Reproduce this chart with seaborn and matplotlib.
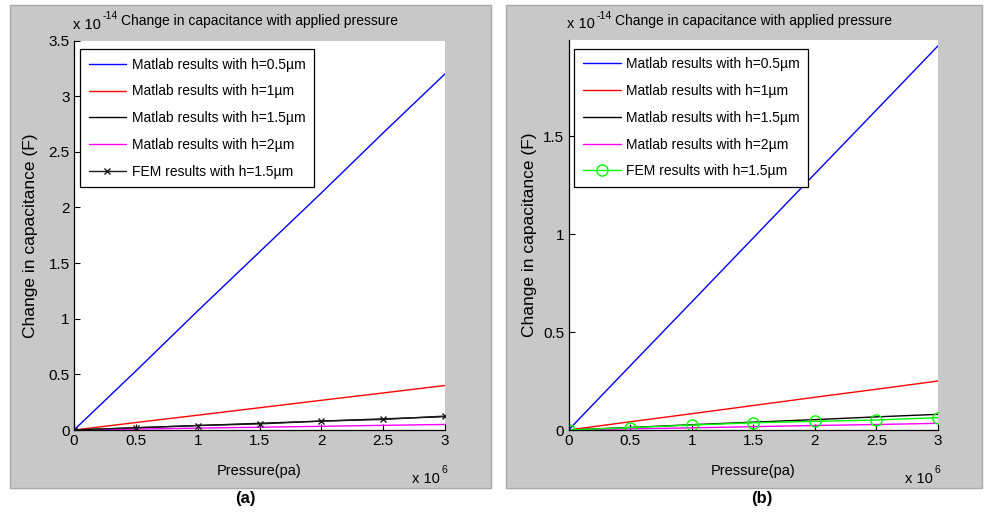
import numpy as np
import pandas as pd
import matplotlib
matplotlib.use("Agg")
import matplotlib.pyplot as plt
from matplotlib.patches import Rectangle
import seaborn as sns

# pressure in units of 1e6 Pa, capacitance change in units of 1e-14 F
pressure = [0, 0.5, 1.0, 1.5, 2.0, 2.5, 3.0]

a_h05 = [0, 0.53, 1.07, 1.60, 2.13, 2.67, 3.20]
a_h1 = [0, 0.067, 0.133, 0.20, 0.267, 0.333, 0.40]
a_h15 = [0, 0.02, 0.04, 0.06, 0.08, 0.10, 0.12]
a_h2 = [0, 0.008, 0.017, 0.025, 0.033, 0.042, 0.05]
a_fem = [0, 0.02, 0.04, 0.055, 0.08, 0.095, 0.125]

b_h05 = [0, 0.327, 0.653, 0.98, 1.307, 1.633, 1.96]
b_h1 = [0, 0.042, 0.083, 0.125, 0.167, 0.208, 0.25]
b_h15 = [0, 0.013, 0.027, 0.04, 0.053, 0.067, 0.08]
b_h2 = [0, 0.006, 0.011, 0.017, 0.023, 0.028, 0.034]
b_fem = [0, 0.012, 0.025, 0.037, 0.044, 0.051, 0.063]

labels = ["Matlab results with h=0.5\u00b5m", "Matlab results with h=1\u00b5m",
          "Matlab results with h=1.5\u00b5m", "Matlab results with h=2\u00b5m",
          "FEM results with h=1.5\u00b5m"]
a_yticks = [0, 0.5, 1, 1.5, 2, 2.5, 3, 3.5]
b_yticks = [0, 0.5, 1, 1.5]
xticks = [0, 0.5, 1, 1.5, 2, 2.5, 3]

sns.set_theme(style="ticks")
plt.rcParams["font.family"] = ["Liberation Sans", "DejaVu Sans"]
plt.rcParams["text.color"] = "black"
plt.rcParams["axes.labelcolor"] = "black"

fig = plt.figure(figsize=(9.84, 5.12), dpi=100)
fig.patch.set_facecolor("white")
W, H = 984, 512
for x0, x1 in [(10, 491), (506, 982)]:
    fig.patches.append(Rectangle((x0 / W, 1 - 488 / H), (x1 - x0) / W, (488 - 5) / H,
                                 transform=fig.transFigure, facecolor="#c8c8c8",
                                 edgecolor="#a8a8a8", lw=1, zorder=-10))


def px_axes(l, r, t, b):
    return fig.add_axes([l / W, 1 - b / H, (r - l) / W, (b - t) / H])


def sci_text(ax, x, y, power):
    base = ax.text(x, y, "x 10", transform=ax.transAxes, ha="left", va="center", fontsize=10.5)
    ax.annotate(power, xy=(1.0, 0.75), xycoords=base, xytext=(1, 0), textcoords="offset points",
                ha="left", va="bottom", fontsize=7.5)


ax_a = px_axes(74, 445, 40.5, 430)
ax_b = px_axes(568.5, 938, 40, 430)

panels = [
    (ax_a, [a_h05, a_h1, a_h15, a_h2, a_fem], "k", "x", 5, 3.5, a_yticks, "(a)", 245, -0.097),
    (ax_b, [b_h05, b_h1, b_h15, b_h2, b_fem], "#00ff00", "o", 8, 1.99, b_yticks, "(b)", 762, -0.085),
]

colors = ["#0000ff", "#ff0000", "#000000", "#ff00ff"]
for ax, series, fcol, fmark, fms, ytop, yt, tag, tagx, ylx in panels:
    ax.set_facecolor("white")
    for vals, c, lab in zip(series[:4], colors, labels[:4]):
        sns.lineplot(x=pressure, y=vals, color=c, lw=1.0, label=lab, ax=ax)
    sns.lineplot(x=pressure, y=series[4], color=fcol, lw=1.0, marker=fmark,
                 markersize=fms, markerfacecolor="none", markeredgecolor=fcol,
                 markeredgewidth=1.0, label=labels[4], ax=ax)
    ax.set_xlim(0, 3)
    ax.set_ylim(0, ytop)
    ax.set_xticks(xticks)
    ax.set_xticklabels(["0", "0.5", "1", "1.5", "2", "2.5", "3"])
    ax.set_yticks(yt)
    ax.set_yticklabels(["%g" % v for v in yt])
    ax.tick_params(direction="in", length=4, width=0.8, labelsize=11, pad=3, colors="black")
    sns.despine(ax=ax)
    for s in ["left", "bottom"]:
        ax.spines[s].set_linewidth(0.9)
        ax.spines[s].set_color("black")
    ax.set_xlabel("Pressure(pa)", fontsize=10.5)
    ax.xaxis.set_label_coords(0.5, -0.088)
    ax.set_ylabel("Change in capacitance (F)", fontsize=12.5)
    ax.yaxis.set_label_coords(ylx, 0.5)
    ax.text(0.5, 1.05, "Change in capacitance with applied pressure", transform=ax.transAxes,
            ha="center", va="center", fontsize=10)
    sci_text(ax, -0.003, 1.04, "-14")
    sci_text(ax, 0.912, -0.125, "6")
    leg = ax.legend(loc="upper left", bbox_to_anchor=(0.016, 0.978), borderaxespad=0,
                    fontsize=10, frameon=True, fancybox=False, framealpha=1,
                    edgecolor="black", handlelength=2.7, handletextpad=0.4,
                    labelspacing=0.92, borderpad=0.62)
    leg.get_frame().set_linewidth(0.9)
    fig.text(tagx / W, 1 - 499 / H, tag, ha="center", va="center", fontsize=12,
             fontweight="bold")

fig.savefig("out.png", dpi=100, facecolor="white")
